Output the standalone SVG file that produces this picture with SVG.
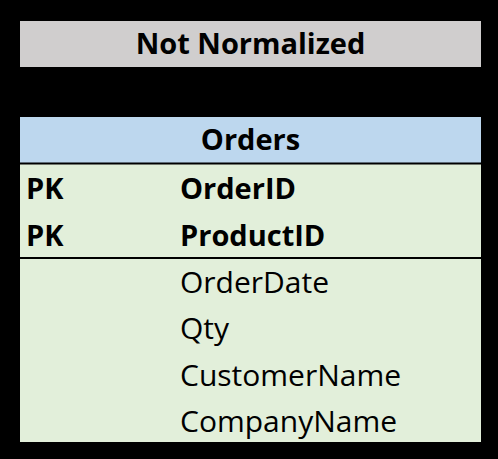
<svg xmlns="http://www.w3.org/2000/svg" width="498" height="459" viewBox="0 0 498 459">
<style>
text{font-family:"Open Sans","Noto Sans","Liberation Sans",sans-serif;font-size:30px;fill:#000}
.b{font-weight:bold;font-size:29px}
.c{text-anchor:middle}
.sep{stroke:#000;stroke-width:2}
</style>
<rect x="0" y="0" width="498" height="459" fill="#000"/>
<g id="title">
<rect x="20" y="21" width="461" height="46" fill="#d0cece"/>
<text class="b c" x="250.5" y="54">Not Normalized</text>
</g>
<g id="orders">
<rect x="20" y="117" width="461" height="46" fill="#bdd7ee"/>
<rect x="20" y="164" width="461" height="278" fill="#e2efda"/>
<line class="sep" x1="20" y1="163.5" x2="481" y2="163.5"/>
<line class="sep" x1="20" y1="258" x2="481" y2="258"/>
<text class="b c" x="250.5" y="150">Orders</text>
<text class="b" x="26" y="199">PK</text>
<text class="b" x="180" y="199">OrderID</text>
<text class="b" x="26" y="246">PK</text>
<text class="b" x="180" y="246">ProductID</text>
<text x="180" y="293">OrderDate</text>
<text x="180" y="339">Qty</text>
<text x="180" y="386">CustomerName</text>
<text x="180" y="432">CompanyName</text>
</g>
</svg>
